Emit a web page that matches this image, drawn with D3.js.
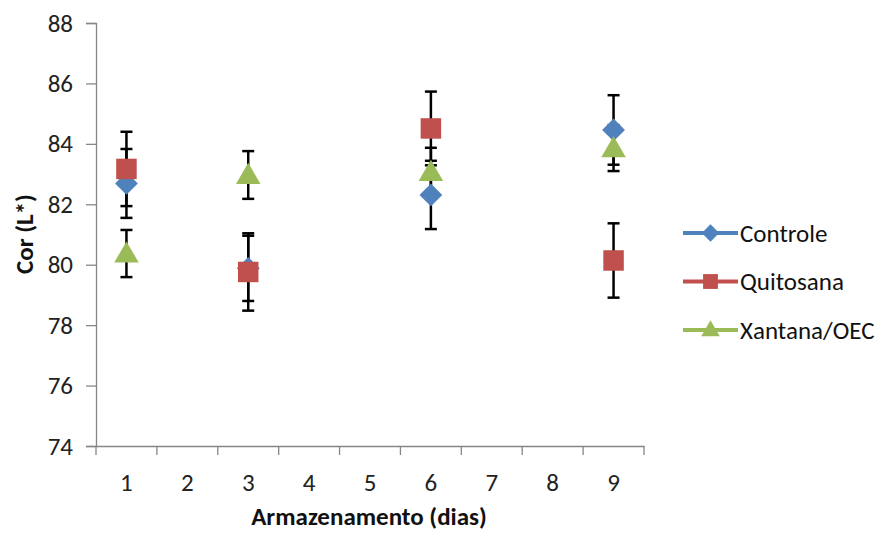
<!DOCTYPE html>
<html>
<head>
<meta charset="utf-8">
<script src="https://cdn.jsdelivr.net/npm/d3@7"></script>
<style>
  html, body { margin: 0; padding: 0; background: #fff; }
  svg { display: block; font-family: Carlito, Lato, "Open Sans", sans-serif; }
</style>
</head>
<body>
<svg id="chart" width="883" height="533"></svg>
<script>
// ---- data ----
const categories = ["1", "2", "3", "4", "5", "6", "7", "8", "9"];
const sampleDays = ["1", "3", "6", "9"];
const seriesNames = ["Controle", "Quitosana", "Xantana/OEC"];
const controle = [82.69, 79.88, 82.31, 84.46];
const controleErr = [1.14, 1.08, 1.13, 1.15];
const quitosana = [83.17, 79.76, 84.51, 80.14];
const quitosanaErr = [1.23, 1.28, 1.22, 1.23];
const xantana = [80.37, 82.97, 83.07, 83.86];
const xantanaErr = [0.78, 0.79, 0.80, 0.76];
const yTicks = [74, 76, 78, 80, 82, 84, 86, 88];
const colors = ["#4F81BD", "#C0504D", "#9BBB59"];

// square diamond (equal width/height) as in the reference
const squareDiamond = {
  draw(ctx, size) {
    const r = Math.sqrt(size / 2);
    ctx.moveTo(0, -r); ctx.lineTo(r, 0); ctx.lineTo(0, r); ctx.lineTo(-r, 0); ctx.closePath();
  }
};
const symbols = [squareDiamond, d3.symbolSquare, d3.symbolTriangle];

const series = [
  { name: seriesNames[0], values: controle, err: controleErr },
  { name: seriesNames[1], values: quitosana, err: quitosanaErr },
  { name: seriesNames[2], values: xantana, err: xantanaErr }
];

const svg = d3.select("#chart");
const x = d3.scaleBand().domain(categories).range([96, 644]).padding(0);
const y = d3.scaleLinear().domain([74, 88]).range([446, 23]);
const axisColor = "#868686";

// y axis
const gy = svg.append("g").attr("transform", "translate(96,0)")
  .call(d3.axisLeft(y).tickValues(yTicks).tickSize(10).tickPadding(13).tickFormat(d3.format("d")));
gy.select(".domain").attr("stroke", axisColor).attr("stroke-width", 1.3);
gy.selectAll(".tick line").attr("stroke", axisColor).attr("stroke-width", 1.3);
gy.selectAll(".tick text").attr("font-size", 25).attr("fill", "#222").attr("font-family", "Carlito, Lato, sans-serif");

// x axis
const gx = svg.append("g").attr("transform", "translate(0,446)")
  .call(d3.axisBottom(x).tickSize(0).tickPadding(27));
gx.select(".domain").attr("stroke", axisColor).attr("stroke-width", 1.3);
gx.selectAll(".tick text").attr("font-size", 25).attr("fill", "#222").attr("font-family", "Carlito, Lato, sans-serif");
const boundaries = categories.map(c => x(c)).concat([x.range()[1]]);
gx.selectAll(".bound").data(boundaries).join("line")
  .attr("x1", d => d).attr("x2", d => d).attr("y1", 0).attr("y2", 9)
  .attr("stroke", axisColor).attr("stroke-width", 1.3);

// axis titles
svg.append("text").attr("x", 369).attr("y", 525).attr("text-anchor", "middle")
  .attr("font-size", 25).attr("font-weight", "bold").attr("fill", "#111")
  .text("Armazenamento (dias)");
svg.append("text").attr("transform", "translate(33,234) rotate(-90)").attr("text-anchor", "middle")
  .attr("font-size", 25).attr("font-weight", "bold").attr("fill", "#111")
  .text("Cor (L*)");

const cx = d => x(d) + x.bandwidth() / 2;

// error bars
series.forEach((s, si) => {
  const g = svg.append("g");
  sampleDays.forEach((d, i) => {
    const xc = cx(d), hi = y(s.values[i] + s.err[i]), lo = y(s.values[i] - s.err[i]);
    g.append("line").attr("x1", xc).attr("x2", xc).attr("y1", hi).attr("y2", lo)
      .attr("stroke", "#000").attr("stroke-width", 2.5);
    [hi, lo].forEach(yy => g.append("line").attr("x1", xc - 6).attr("x2", xc + 6)
      .attr("y1", yy).attr("y2", yy).attr("stroke", "#000").attr("stroke-width", 2.5));
  });
});

// markers
const sizes = [260, 420, 260];
series.forEach((s, si) => {
  svg.append("g").selectAll("path").data(sampleDays).join("path")
    .attr("d", d3.symbol().type(symbols[si]).size(sizes[si]))
    .attr("transform", (d, i) => `translate(${cx(d)},${y(s.values[i]) + (si === 2 ? 2 : 0)})`)
    .attr("fill", colors[si]);
});

// legend
const legend = svg.append("g");
series.forEach((s, si) => {
  const ly = 233 + si * 48.5;
  legend.append("line").attr("x1", 683).attr("x2", 738).attr("y1", ly).attr("y2", ly)
    .attr("stroke", colors[si]).attr("stroke-width", 4);
  legend.append("path").attr("d", d3.symbol().type(symbols[si]).size([150, 220, 150][si]))
    .attr("transform", `translate(710.5,${ly + (si === 2 ? 1 : 0)})`).attr("fill", colors[si]);
  legend.append("text").attr("x", 740).attr("y", ly + 8.5).attr("font-size", 25).attr("fill", "#111")
    .text(s.name);
});
</script>
</body>
</html>
